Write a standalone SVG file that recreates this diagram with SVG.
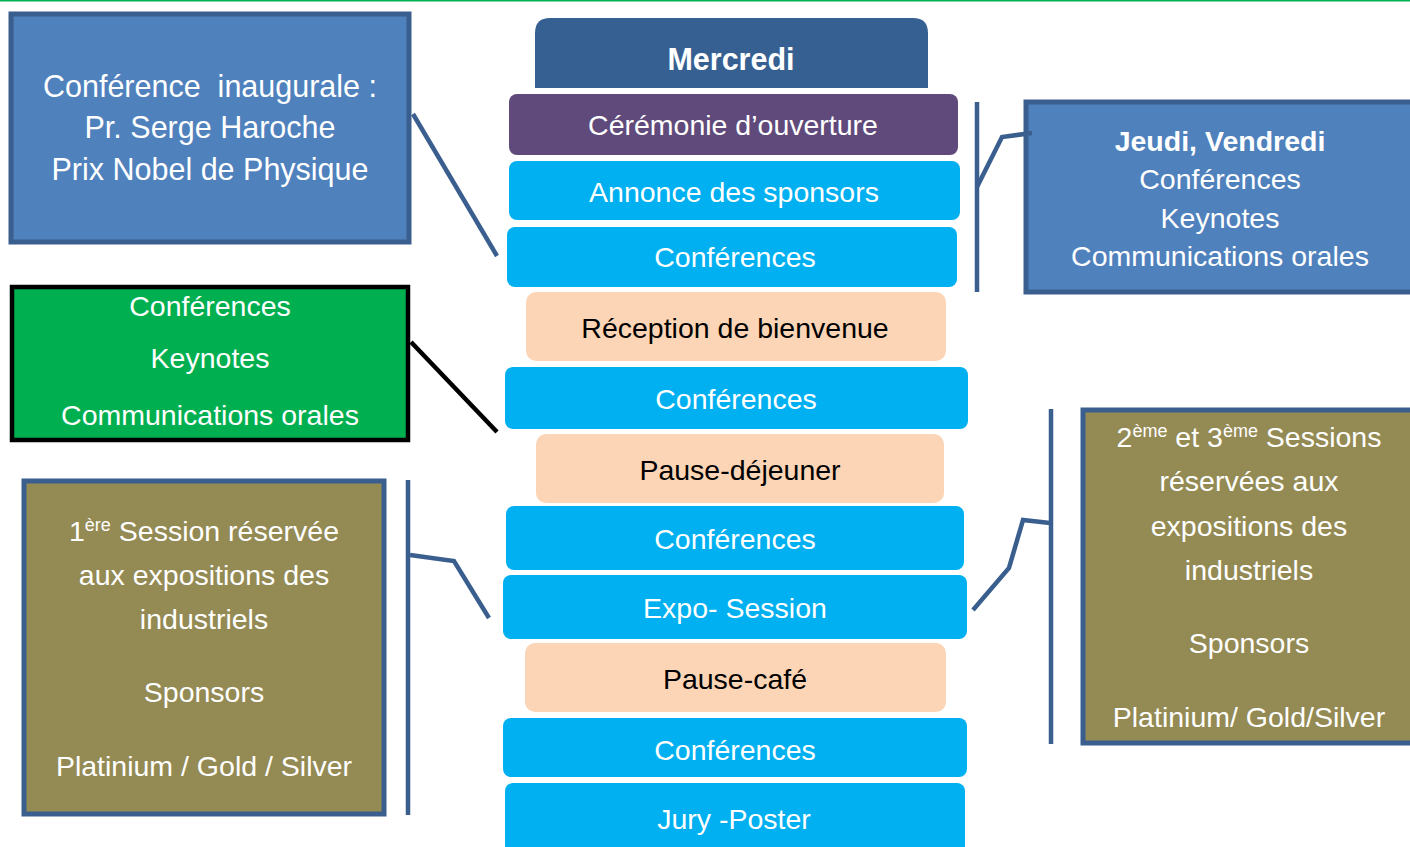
<svg xmlns="http://www.w3.org/2000/svg" width="1410" height="847" viewBox="0 0 1410 847">
<style>
text{font-family:"Liberation Sans",Arial,sans-serif;font-size:28.5px;text-anchor:middle;fill:#fff}
.dk{fill:#000}
.b{font-weight:bold}
.big{font-size:30.5px}
.sup{font-size:18px}
.blue{fill:#4f81bd;stroke:#3a5f8e;stroke-width:5}
.olive{fill:#948a54;stroke:#3a5f8e;stroke-width:5}
.cyan{fill:#00b0f0}
.peach{fill:#fbd5b5}
.ln{fill:none;stroke:#3a5f8e;stroke-width:4.5}
</style>
<line x1="0" y1="0.5" x2="1410" y2="0.5" stroke="#00b050" stroke-width="2"/>
<g id="inaugurale">
<rect class="blue" x="11" y="14" width="398" height="228"/>
<text x="210" y="97" class="big">Conférence&#160; inaugurale :</text>
<text x="210" y="138" class="big">Pr. Serge Haroche</text>
<text x="210" y="180" class="big">Prix Nobel de Physique</text>
</g>
<g id="green">
<rect x="12" y="287" width="396" height="153" fill="#00b050" stroke="#000" stroke-width="4.5"/>
<text x="210" y="316">Conférences</text>
<text x="210" y="368">Keynotes</text>
<text x="210" y="425">Communications orales</text>
</g>
<g id="session1">
<rect class="olive" x="24" y="481" width="360" height="333"/>
<text x="204" y="541">1<tspan class="sup" dy="-10">ère</tspan><tspan dy="10"> Session réservée</tspan></text>
<text x="204" y="585">aux expositions des</text>
<text x="204" y="629">industriels</text>
<text x="204" y="702">Sponsors</text>
<text x="204" y="776">Platinium / Gold / Silver</text>
</g>
<g id="jeudi">
<rect class="blue" x="1026" y="102" width="390" height="190"/>
<text x="1220" y="151" class="b">Jeudi, Vendredi</text>
<text x="1220" y="189">Conférences</text>
<text x="1220" y="228">Keynotes</text>
<text x="1220" y="266">Communications orales</text>
</g>
<g id="session23">
<rect class="olive" x="1083" y="410" width="333" height="333"/>
<text x="1249" y="447">2<tspan class="sup" dy="-10">ème</tspan><tspan dy="10"> et 3</tspan><tspan class="sup" dy="-10">ème</tspan><tspan dy="10"> Sessions</tspan></text>
<text x="1249" y="491">réservées aux</text>
<text x="1249" y="536">expositions des</text>
<text x="1249" y="580">industriels</text>
<text x="1249" y="653">Sponsors</text>
<text x="1249" y="727">Platinium/ Gold/Silver</text>
</g>
<g id="mercredi">
<path d="M535 88 V33 Q535 18 550 18 H913 Q928 18 928 33 V88 Z" fill="#366092"/>
<text x="731" y="70" class="b" style="font-size:30.5px">Mercredi</text>
</g>
<g id="ceremonie">
<rect x="509" y="94" width="449" height="61" rx="8" fill="#604a7b"/>
<text x="733" y="135">Cérémonie d’ouverture</text>
</g>
<g id="annonce">
<rect class="cyan" x="509" y="161" width="451" height="59" rx="8"/>
<text x="734" y="202">Annonce des sponsors</text>
</g>
<g id="conf1">
<rect class="cyan" x="507" y="227" width="450" height="60" rx="8"/>
<text x="735" y="267">Conférences</text>
</g>
<g id="reception">
<rect class="peach" x="526" y="292" width="420" height="69" rx="10"/>
<text x="735" y="338" class="dk">Réception de bienvenue</text>
</g>
<g id="conf2">
<rect class="cyan" x="505" y="367" width="463" height="62" rx="8"/>
<text x="736" y="409">Conférences</text>
</g>
<g id="dejeuner">
<rect class="peach" x="536" y="434" width="408" height="69" rx="10"/>
<text x="740" y="480" class="dk">Pause-déjeuner</text>
</g>
<g id="conf3">
<rect class="cyan" x="506" y="506" width="458" height="64" rx="8"/>
<text x="735" y="549">Conférences</text>
</g>
<g id="expo">
<rect class="cyan" x="503" y="575" width="464" height="64" rx="8"/>
<text x="735" y="618">Expo- Session</text>
</g>
<g id="cafe">
<rect class="peach" x="525" y="643" width="421" height="69" rx="10"/>
<text x="735" y="689" class="dk">Pause-café</text>
</g>
<g id="conf4">
<rect class="cyan" x="503" y="718" width="464" height="59" rx="8"/>
<text x="735" y="760">Conférences</text>
</g>
<g id="jury">
<rect class="cyan" x="505" y="783" width="460" height="80" rx="8"/>
<text x="734" y="829">Jury -Poster</text>
</g>
<g id="connectors">
<line class="ln" x1="413" y1="114" x2="497" y2="256"/>
<line x1="411" y1="342" x2="497" y2="432" stroke="#000" stroke-width="4.5"/>
<line class="ln" x1="408" y1="480" x2="408" y2="815"/>
<polyline class="ln" points="410,555 454,561 489,618"/>
<line class="ln" x1="977" y1="102" x2="977" y2="292"/>
<polyline class="ln" points="977,187 1002,137 1032,133"/>
<line class="ln" x1="1051" y1="409" x2="1051" y2="744"/>
<polyline class="ln" points="1050,523 1023,520 1009,568 973,610"/>
</g>
</svg>
